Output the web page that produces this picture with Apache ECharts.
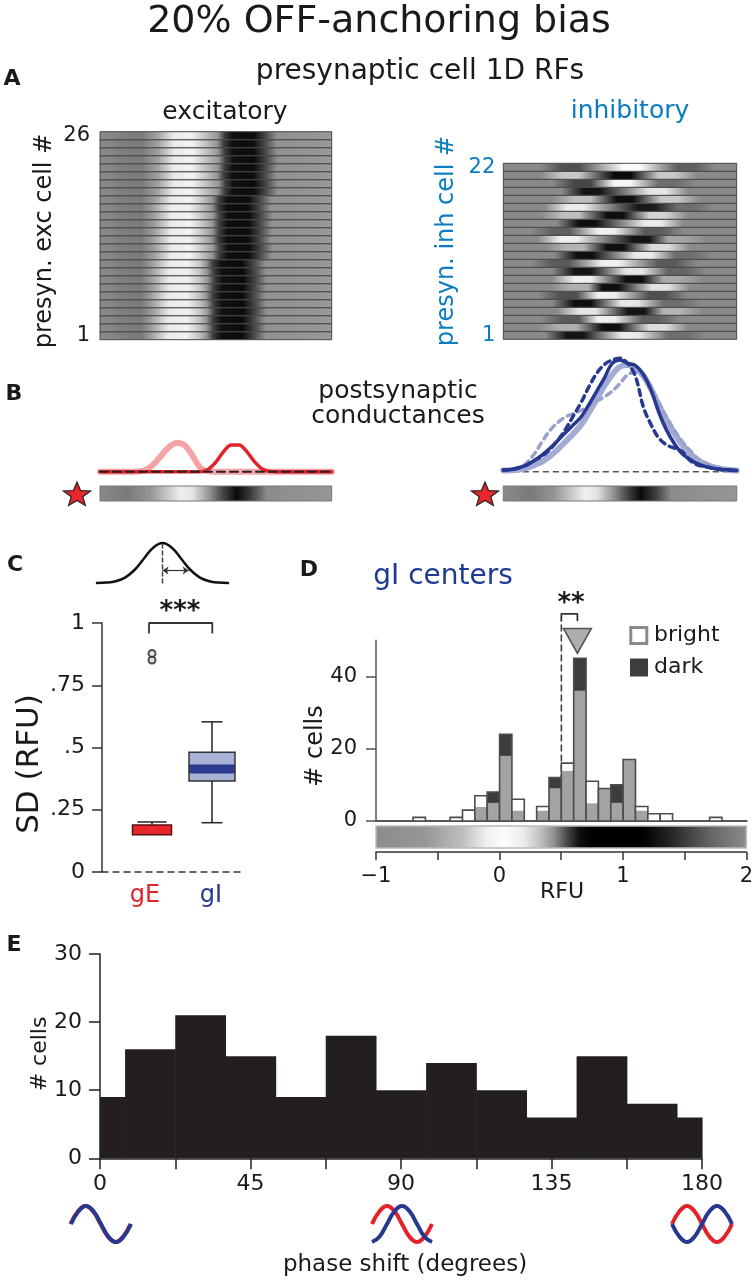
<!DOCTYPE html>
<html><head><meta charset="utf-8">
<script src="https://cdn.jsdelivr.net/npm/echarts@6/dist/echarts.min.js"></script>
<style>html,body{margin:0;padding:0;background:#fff}#c{width:756px;height:1280px}</style>
</head><body><div id="c"></div>
<script>
// ---------------- DATA ----------------
// Panel A: excitatory RF rows (bottom row 1 -> top row 26): centre of bright and dark subfield (RFU)
const excWhite = [0.03,0.04,0.03,0.05,0.04,0.03,0.05,0.04,0.04,0.05,0.07,0.08,0.06,0.07,0.08,0.07,0.06,0.08,0.10,0.11,0.12,0.10,0.11,0.12,0.11,0.10];
const excBlack = [0.72,0.73,0.72,0.74,0.73,0.72,0.73,0.74,0.73,0.72,0.80,0.81,0.79,0.80,0.80,0.81,0.79,0.80,0.87,0.88,0.86,0.87,0.88,0.87,0.86,0.87];
// Panel A: inhibitory RF rows (bottom row 1 -> top row 22): [position (fraction of width), grey level]
const inhRows = [
  [[0.31,20],[0.54,235],[0.74,110]],
  [[0.28,175],[0.46,15],[0.66,220]],
  [[0.29,90],[0.44,240],[0.63,95]],
  [[0.36,230],[0.57,20],[0.72,180]],
  [[0.34,15],[0.54,230],[0.72,110]],
  [[0.28,80],[0.44,240],[0.66,80]],
  [[0.33,175],[0.46,15],[0.67,225]],
  [[0.34,240],[0.56,15],[0.72,170]],
  [[0.34,20],[0.56,230],[0.74,100]],
  [[0.25,90],[0.46,240],[0.70,90]],
  [[0.35,15],[0.60,235],[0.77,110]],
  [[0.31,180],[0.48,15],[0.67,220]],
  [[0.28,240],[0.59,20],[0.74,165]],
  [[0.25,95],[0.44,240],[0.64,90]],
  [[0.36,15],[0.64,235]],
  [[0.29,190],[0.48,15],[0.66,210]],
  [[0.31,235],[0.61,25],[0.78,110]],
  [[0.34,190],[0.52,15],[0.71,200]],
  [[0.38,20],[0.66,230]],
  [[0.34,70],[0.51,245],[0.70,110]],
  [[0.29,200],[0.51,10],[0.70,200]],
  [[0.29,80],[0.55,250],[0.78,95]]
];
// Panel B: conductances vs position (RFU)
const rfuX = [-1,-0.9,-0.8,-0.7,-0.6,-0.5,-0.4,-0.3,-0.2,-0.1,0,0.1,0.2,0.3,0.4,0.5,0.6,0.7,0.8,0.9,1,1.1,1.2,1.3,1.4,1.5,1.6,1.7,1.8,1.9,2];
const gEbright = [0,0,0,0,0,0.003,0.02,0.07,0.15,0.225,0.26,0.235,0.14,0.035,0.003,0,0,0,0,0,0,0,0,0,0,0,0,0,0,0,0];
const gEdark   = [0,0,0,0,0,0,0,0,0,0,0,0,0,0,0.02,0.085,0.18,0.24,0.24,0.18,0.09,0.025,0.003,0,0,0,0,0,0,0,0];
const gIdarkSolid   = [0.015,0.02,0.035,0.06,0.10,0.15,0.21,0.28,0.35,0.42,0.49,0.60,0.72,0.84,0.97,1.0,0.97,0.95,0.87,0.73,0.53,0.37,0.25,0.16,0.11,0.07,0.045,0.03,0.02,0.015,0.01];
const gIdarkDash    = [0.015,0.02,0.035,0.06,0.10,0.14,0.20,0.28,0.38,0.50,0.62,0.76,0.88,0.96,1.0,1.015,0.97,0.85,0.58,0.42,0.30,0.24,0.21,0.18,0.10,0.06,0.045,0.03,0.02,0.015,0.01];
const gIbrightSolid = [0.01,0.012,0.02,0.035,0.06,0.09,0.14,0.20,0.27,0.34,0.42,0.53,0.65,0.77,0.87,0.94,0.955,0.93,0.86,0.74,0.59,0.46,0.34,0.24,0.16,0.10,0.065,0.04,0.025,0.015,0.01];
const gIbrightDash  = [0.01,0.015,0.03,0.08,0.16,0.27,0.37,0.44,0.49,0.52,0.55,0.59,0.63,0.67,0.72,0.79,0.87,0.89,0.85,0.75,0.62,0.49,0.37,0.27,0.19,0.12,0.08,0.05,0.03,0.018,0.01];
// stimulus (mean RF) grey profile: [fraction, grey]
const stimStops = [[0,138],[0.12,122],[0.22,150],[0.35,240],[0.40,228],[0.47,150],[0.53,70],[0.59,10],[0.65,60],[0.72,140],[1,150]];
// Panel C: Gaussian icon (x in SD units) and box plots of SD (RFU)
const gaussX = [-3.5,-3,-2.5,-2,-1.5,-1,-0.5,0,0.5,1,1.5,2,2.5,3,3.5];
const gaussY = [0.002,0.011,0.044,0.135,0.325,0.607,0.882,1,0.882,0.607,0.325,0.135,0.044,0.011,0.002];
const boxNames = ['gE','gI'];
const boxPos = [0.5, 1.1];
const boxStats = [ // [min, q1, median, q3, max]
  [0.15, 0.15, 0.17, 0.189, 0.201],
  [0.198, 0.365, 0.414, 0.481, 0.603]
];
const gEoutliers = [0.851, 0.878];
// Panel D: gI centres histogram (bin start, RFU), counts for bright and dark
const dBinWidth = 0.1;
const dBinStart = [-0.7,-0.4,-0.3,-0.2,-0.1,0.0,0.1,0.3,0.4,0.5,0.6,0.7,0.8,0.9,1.0,1.1,1.2,1.3,1.7];
const dBright   = [1,1,3,7,5,18,6,4,9,16,36,11,9,5,17,4,2,2,1];
const dDark     = [0,0,0,4,8,24,3,3,12,14,45,5,9,10,17,3,0,0,0];
const dMedianBright = 0.5, dMedianDark = 0.63;
const cbarStops = [[-1,140],[-0.6,150],[-0.3,190],[-0.1,240],[0.05,252],[0.2,235],[0.35,185],[0.45,140],[0.55,70],[0.65,15],[0.75,0],[1.15,0],[1.4,40],[1.7,100],[2,140]];
// Panel E: phase shift histogram
const eBinLo  = [0,7.5,22.5,37.5,52.5,67.5,82.5,97.5,112.5,127.5,142.5,157.5,172.5];
const eBinHi  = [7.5,22.5,37.5,52.5,67.5,82.5,97.5,112.5,127.5,142.5,157.5,172.5,180];
const eCounts = [9,16,21,15,9,18,10,14,10,6,15,8,6];
const eTickLabels = [0,45,90,135,180];

// ---------------- HELPERS ----------------
const F = 'DejaVu Sans';
const INK = '#1a1a1a', BLUE_T = '#0b7cc1', NAVY = '#27388f', LNAVY = '#a3abd4', RED = '#e3232a', LRED = '#f5a3a6';
const gray = g => 'rgb(' + g + ',' + g + ',' + g + ')';
const clamp01 = v => Math.max(0, Math.min(1, v));
const grad = stops => new echarts.graphic.LinearGradient(0, 0, 1, 0, stops.map(s => ({offset: clamp01(s[0]), color: gray(s[1])})));
const zip = (xs, ys) => xs.map((x, i) => [x, ys[i]]);
const hid = (o) => Object.assign({type: 'value', show: false, splitLine: {show: false}}, o);

const grids = [
  {left: 100, top: 131.7, width: 231.7, height: 208},     //0 exc heatmap
  {left: 503.3, top: 163.3, width: 233.4, height: 176},   //1 inh heatmap
  {left: 100, top: 360, width: 231.7, height: 111.7},     //2 B red
  {left: 503.3, top: 360, width: 233.4, height: 111.7},   //3 B blue
  {left: 100, top: 486, width: 231.7, height: 15},        //4 stim red
  {left: 503.3, top: 486, width: 233.4, height: 15},      //5 stim blue
  {left: 97, top: 543, width: 131, height: 40},           //6 gaussian icon
  {left: 102, top: 623, width: 140, height: 249},         //7 box
  {left: 376, top: 640.2, width: 370.7, height: 180.8},   //8 D hist
  {left: 376, top: 826, width: 370.7, height: 26},        //9 D colourbar
  {left: 100, top: 954, width: 602, height: 204.3}        //10 E
];

const axLab = (extra) => Object.assign({color: INK, fontFamily: F, fontSize: 21}, extra);
const xAxes = [
  hid({gridIndex: 0, min: -1, max: 2}),
  hid({gridIndex: 1, min: -1, max: 2}),
  hid({gridIndex: 2, min: -1, max: 2}),
  hid({gridIndex: 3, min: -1, max: 2}),
  hid({gridIndex: 4, min: -1, max: 2}),
  hid({gridIndex: 5, min: -1, max: 2}),
  hid({gridIndex: 6, min: -3.5, max: 3.5}),
  {type: 'value', gridIndex: 7, min: 0, max: 1.4, axisLine: {show: true, onZero: false, lineStyle: {color: '#333', width: 1.5, type: [6, 5]}},
   axisTick: {show: false}, axisLabel: {show: false}, splitLine: {show: false}},
  {type: 'value', gridIndex: 8, min: -1, max: 2, axisLine: {show: true, onZero: false, lineStyle: {color: '#555', width: 2}},
   axisTick: {show: false}, axisLabel: {show: false}, splitLine: {show: false}},
  {type: 'value', gridIndex: 9, min: -1, max: 2, interval: 0.5, axisLine: {show: true, onZero: false, lineStyle: {color: '#333', width: 1.5}},
   axisTick: {show: true, length: 8, lineStyle: {color: '#333', width: 1.5}},
   axisLabel: axLab({margin: 14, formatter: v => Number.isInteger(v) ? (v < 0 ? '\u2212' + (-v) : String(v)) : ''}), splitLine: {show: false}},
  {type: 'value', gridIndex: 10, min: 0, max: 180, interval: 22.5, axisLine: {show: true, onZero: false, lineStyle: {color: '#222', width: 1.5}},
   axisTick: {show: true, length: 11, lineStyle: {color: '#222', width: 1.5}},
   axisLabel: axLab({fontSize: 22, margin: 15, formatter: v => eTickLabels.indexOf(v) >= 0 ? String(v) : ''}), splitLine: {show: false}}
];
const yAxes = [
  {type: 'value', gridIndex: 0, min: 0, max: 26, interval: 0.5, axisLine: {show: false}, axisTick: {show: false}, splitLine: {show: false},
   axisLabel: axLab({margin: 10, formatter: v => v === 0.5 ? '1' : (v === 25.5 ? '26' : '')})},
  {type: 'value', gridIndex: 1, min: 0, max: 22, interval: 0.5, axisLine: {show: false}, axisTick: {show: false}, splitLine: {show: false},
   axisLabel: axLab({margin: 8, color: BLUE_T, formatter: v => v === 0.5 ? '1' : (v === 21.5 ? '22' : '')})},
  hid({gridIndex: 2, min: 0, max: 1}),
  hid({gridIndex: 3, min: 0, max: 1}),
  hid({gridIndex: 4, min: 0, max: 1}),
  hid({gridIndex: 5, min: 0, max: 1}),
  hid({gridIndex: 6, min: 0, max: 1}),
  {type: 'value', gridIndex: 7, min: 0, max: 1, interval: 0.25, axisLine: {show: true, onZero: false, lineStyle: {color: '#333', width: 1.5}},
   axisTick: {show: true, length: 10, lineStyle: {color: '#333', width: 1.5}}, splitLine: {show: false},
   axisLabel: axLab({fontSize: 22, margin: 17, formatter: v => v === 0 ? '0' : (v === 1 ? '1' : String(v).replace('0.', '.'))})},
  {type: 'value', gridIndex: 8, min: 0, max: 50, axisLine: {show: true, onZero: false, lineStyle: {color: '#555', width: 1.5}},
   axisTick: {show: true, length: 10, customValues: [0, 20, 40], lineStyle: {color: '#555', width: 1.5}}, splitLine: {show: false},
   axisLabel: axLab({margin: 19, customValues: [0, 20, 40]})},
  hid({gridIndex: 9, min: 0, max: 1}),
  {type: 'value', gridIndex: 10, min: 0, max: 30, interval: 10, axisLine: {show: true, onZero: false, lineStyle: {color: '#222', width: 1.5}},
   axisTick: {show: true, length: 11, lineStyle: {color: '#222', width: 1.5}}, splitLine: {show: false},
   axisLabel: axLab({fontSize: 22, margin: 18})}
];

const series = [];
// Panel A excitatory rows
series.push({type: 'custom', xAxisIndex: 0, yAxisIndex: 0, silent: true,
  data: excWhite.map((w, i) => [i, w, excBlack[i]]),
  renderItem(params, api) {
    const row = api.value(0), wf = (api.value(1) + 1) / 3, bf = (api.value(2) + 1) / 3;
    const p0 = api.coord([-1, row + 1]), p1 = api.coord([2, row]);
    const st = [[0,140],[0.1,128],[0.18,122],[wf-0.12,160],[wf-0.05,235],[wf+0.03,242],[wf+0.08,200],[bf-0.115,150],[bf-0.085,60],[bf-0.05,15],[bf+0.04,12],[bf+0.085,65],[bf+0.14,145],[1,152]];
    return {type: 'rect', shape: {x: p0[0], y: p0[1], width: p1[0] - p0[0], height: p1[1] - p0[1]},
      style: {fill: grad(st), stroke: '#484848', lineWidth: 1}};
  }});
// Panel A inhibitory rows
series.push({type: 'custom', xAxisIndex: 1, yAxisIndex: 1, silent: true,
  data: inhRows.map((r, i) => [i]),
  renderItem(params, api) {
    const row = api.value(0), kp = inhRows[params.dataIndex];
    const p0 = api.coord([-1, row + 1]), p1 = api.coord([2, row]);
    const st = [[0,138]];
    st.push([kp[0][0] - 0.13, 138]);
    kp.forEach(k => { st.push([k[0] - 0.035, k[1]]); st.push([k[0] + 0.035, k[1]]); });
    st.push([kp[kp.length - 1][0] + 0.13, 138]); st.push([1, 138]);
    return {type: 'rect', shape: {x: p0[0], y: p0[1], width: p1[0] - p0[0], height: p1[1] - p0[1]},
      style: {fill: grad(st), stroke: '#484848', lineWidth: 1}};
  }});
// Panel B curves
const lineS = (xi, data, color, width, dash, z) => ({type: 'line', xAxisIndex: xi, yAxisIndex: xi, data: data, showSymbol: false, symbol: 'none',
  smooth: 0.35, clip: false, silent: true, z: z || 2, lineStyle: {color: color, width: width, type: dash || 'solid', cap: 'round'}});
series.push(lineS(2, zip(rfuX, gEbright), LRED, 6, null, 2));
series.push(lineS(2, zip(rfuX, gEdark), RED, 3.5, null, 3));
series.push(Object.assign(lineS(2, [[-1, 0], [2, 0]], '#222', 2, [8, 5], 4), {smooth: false}));
series.push(Object.assign(lineS(3, [[-1, 0], [2, 0]], '#555', 1.6, [5, 5], 1), {smooth: false}));
series.push(lineS(3, zip(rfuX, gIbrightSolid), LNAVY, 6, null, 2));
series.push(lineS(3, zip(rfuX, gIbrightDash), '#9aa2cc', 3.5, [6, 5], 3));
series.push(lineS(3, zip(rfuX, gIdarkSolid), NAVY, 3.5, null, 4));
series.push(lineS(3, zip(rfuX, gIdarkDash), NAVY, 3.5, [6, 5], 5));
// stimulus bars
[4, 5].forEach(gi => series.push({type: 'custom', xAxisIndex: gi, yAxisIndex: gi, silent: true, data: [[-1, 2]],
  renderItem(params, api) {
    const p0 = api.coord([api.value(0), 1]), p1 = api.coord([api.value(1), 0]);
    return {type: 'rect', shape: {x: p0[0], y: p0[1], width: p1[0] - p0[0], height: p1[1] - p0[1]},
      style: {fill: grad(stimStops), stroke: '#777', lineWidth: 1}};
  }}));
// Panel C gaussian icon
series.push(Object.assign(lineS(6, zip(gaussX, gaussY), '#111', 2.5, null, 3), {smooth: 0.4}));
series.push(Object.assign(lineS(6, [[0, 0], [0, 1]], '#444', 1.5, [4, 3], 2), {smooth: false}));
series.push({type: 'line', xAxisIndex: 6, yAxisIndex: 6, data: [], silent: true,
  markLine: {silent: true, symbol: ['arrow', 'arrow'], symbolSize: 6, label: {show: false}, lineStyle: {color: '#333', width: 1.2, type: 'solid'},
    data: [[{coord: [0, 0.31]}, {coord: [1.4, 0.31]}]]}});
// Panel C boxes
const boxW = [0.39, 0.46], capW = [0.29, 0.21];
const boxFill = ['#e8262b', '#a8b2d6'], medColor = ['#e8262b', '#2b3990'], medW = [1, 9], boxStroke = ['#5a1010', '#333'];
series.push({type: 'custom', xAxisIndex: 7, yAxisIndex: 7, silent: true, clip: false,
  data: boxStats.map((s, i) => [boxPos[i]].concat(s)),
  renderItem(params, api) {
    const i = params.dataIndex, x = api.value(0), mn = api.value(1), q1 = api.value(2), md = api.value(3), q3 = api.value(4), mx = api.value(5);
    const hw = boxW[i] / 2, cw = capW[i] / 2, c = api.coord;
    const ln = (a, b, col, w) => ({type: 'line', shape: {x1: a[0], y1: a[1], x2: b[0], y2: b[1]}, style: {stroke: col, lineWidth: w}});
    const tl = c([x - hw, q3]), br = c([x + hw, q1]);
    const ch = [ln(c([x, q3]), c([x, mx]), '#222', 1.5), ln(c([x - cw, mx]), c([x + cw, mx]), '#222', 1.5)];
    if (mn < q1) { ch.push(ln(c([x, q1]), c([x, mn]), '#222', 1.5)); ch.push(ln(c([x - cw, mn]), c([x + cw, mn]), '#222', 1.5)); }
    ch.push({type: 'rect', shape: {x: tl[0], y: tl[1], width: br[0] - tl[0], height: br[1] - tl[1]}, style: {fill: boxFill[i]}});
    ch.push(ln(c([x - hw, md]), c([x + hw, md]), medColor[i], medW[i]));
    ch.push({type: 'rect', shape: {x: tl[0], y: tl[1], width: br[0] - tl[0], height: br[1] - tl[1]}, style: {fill: null, stroke: boxStroke[i], lineWidth: 1.5}});
    return {type: 'group', children: ch};
  }});
series.push({type: 'scatter', xAxisIndex: 7, yAxisIndex: 7, silent: true, symbol: 'circle', symbolSize: 7,
  data: gEoutliers.map(v => [boxPos[0], v]), itemStyle: {color: '#ddd', borderColor: '#222', borderWidth: 2}});
series.push(Object.assign(lineS(7, [[0.47, 0.961], [0.47, 1], [1.103, 1], [1.103, 0.961]], '#333', 1.8, null, 3), {smooth: false}));
// Panel D histogram
series.push({type: 'custom', xAxisIndex: 8, yAxisIndex: 8, silent: true, clip: false,
  data: dBinStart.map((s, i) => [s, dBright[i], dDark[i]]),
  renderItem(params, api) {
    const x0 = api.value(0), b = api.value(1), d = api.value(2), lo = Math.min(b, d), hi = Math.max(b, d);
    const p0 = api.coord([x0, 0]), pl = api.coord([x0 + dBinWidth, lo]), ph = api.coord([x0 + dBinWidth, hi]);
    const w = pl[0] - p0[0];
    const ch = [];
    if (lo > 0) ch.push({type: 'rect', shape: {x: p0[0], y: pl[1], width: w, height: p0[1] - pl[1]}, style: {fill: '#a3a3a3'}});
    if (hi > lo) ch.push({type: 'rect', shape: {x: p0[0], y: ph[1], width: w, height: pl[1] - ph[1]}, style: {fill: d > b ? '#3d3d3d' : '#ffffff'}});
    if (lo > 0 && hi > lo && b > d) ch.push({type: 'line', shape: {x1: p0[0], y1: pl[1], x2: p0[0] + w, y2: pl[1]}, style: {stroke: '#fff', lineWidth: 1}});
    ch.push({type: 'rect', shape: {x: p0[0], y: ph[1], width: w, height: p0[1] - ph[1]}, style: {fill: null, stroke: '#4d4d4d', lineWidth: 1.6}});
    return {type: 'group', children: ch};
  }});
series.push(Object.assign(lineS(8, [[dMedianBright, 0], [dMedianBright, 55.5]], '#444', 1.6, [6, 4], 1), {smooth: false}));
series.push(Object.assign(lineS(8, [[dMedianBright, 55.5], [dMedianBright, 57.3], [dMedianDark, 57.3], [dMedianDark, 55.5]], '#333', 1.8, null, 3), {smooth: false}));
series.push({type: 'scatter', xAxisIndex: 8, yAxisIndex: 8, silent: true, clip: false, symbol: 'triangle', symbolRotate: 180, symbolSize: [28, 25],
  data: [[dMedianDark, 49.8]], itemStyle: {color: '#9a9a9a', borderColor: '#333', borderWidth: 1.5}, z: 5});
// colour bar
series.push({type: 'custom', xAxisIndex: 9, yAxisIndex: 9, silent: true, data: [[-1, 2]],
  renderItem(params, api) {
    const p0 = api.coord([api.value(0), 1]), p1 = api.coord([api.value(1), 0.15]);
    const st = cbarStops.map(s => [(s[0] + 1) / 3, s[1]]);
    return {type: 'rect', shape: {x: p0[0], y: p0[1], width: p1[0] - p0[0], height: p1[1] - p0[1]},
      style: {fill: grad(st), stroke: '#bbb', lineWidth: 1.5}};
  }});
// Panel E histogram
series.push({type: 'custom', xAxisIndex: 10, yAxisIndex: 10, silent: true,
  data: eCounts.map((n, i) => [eBinLo[i], eBinHi[i], n]),
  renderItem(params, api) {
    const p0 = api.coord([api.value(0), api.value(2)]), p1 = api.coord([api.value(1), 0]);
    return {type: 'rect', shape: {x: p0[0], y: p0[1], width: p1[0] - p0[0] + 0.6, height: p1[1] - p0[1]}, style: {fill: '#231f20'}};
  }});

// ---------------- TEXT & ICONS ----------------
const txt = (s, x, y, o) => Object.assign({type: 'text', x: x, y: y, silent: true, z: 10,
  style: Object.assign({text: s, fill: INK, font: '24px "' + F + '"', textAlign: 'center', textVerticalAlign: 'middle', align: 'center', verticalAlign: 'middle'}, (o && o.style) || {})},
  o ? {rotation: o.rotation || 0} : {});
const fnt = (px, bold) => (bold ? 'bold ' : '') + px + 'px "' + F + '"';
const SINE = [0, 0.707, 1, 0.707, 0, -0.707, -1, -0.707, 0];
const NSINE = SINE.map(v => -v);
const NCOS = [-1, -0.707, 0, 0.707, 1, 0.707, 0, -0.707, -1];
const wave = (cx, cy, shape, color) => ({type: 'polyline', silent: true, z: 10,
  shape: {points: shape.map((v, i) => [cx - 30 + i * 60 / (shape.length - 1), cy - 18 * v]), smooth: 0.45},
  style: {stroke: color, lineWidth: 4, fill: null}});
const STAR_R = [13, 5.5, 13, 5.5, 13, 5.5, 13, 5.5, 13, 5.5];
const star = (cx, cy) => ({type: 'polygon', silent: true, z: 10,
  shape: {points: STAR_R.map((r, i) => [cx + 1.1 * r * Math.sin(i * Math.PI / 5), cy - r * Math.cos(i * Math.PI / 5)])},
  style: {fill: '#e8262b', stroke: '#222', lineWidth: 1.2}});
const graphic = [
  txt('20% OFF-anchoring bias', 379, 22, {style: {font: fnt(38)}}),
  txt('A', 12, 79, {style: {font: fnt(22, true)}}),
  txt('presynaptic cell 1D RFs', 420, 72, {style: {font: fnt(28)}}),
  txt('excitatory', 225, 112, {style: {font: fnt(25)}}),
  txt('inhibitory', 630, 111, {style: {font: fnt(25), fill: BLUE_T}}),
  txt('presyn. exc cell #', 45, 241, {rotation: Math.PI / 2, style: {font: fnt(24)}}),
  txt('presyn. inh cell #', 447, 241, {rotation: Math.PI / 2, style: {font: fnt(24), fill: BLUE_T}}),
  txt('B', 14, 394, {style: {font: fnt(22, true)}}),
  txt('postsynaptic', 398, 391, {style: {font: fnt(25)}}),
  txt('conductances', 398, 416, {style: {font: fnt(25)}}),
  star(77, 495), star(485, 495),
  txt('C', 15, 565, {style: {font: fnt(22, true)}}),
  txt('***', 180, 612, {style: {font: fnt(26, true)}}),
  txt('SD (RFU)', 30, 764, {rotation: Math.PI / 2, style: {font: fnt(31)}}),
  txt(boxNames[0], 145, 896, {style: {font: fnt(24), fill: RED}}),
  txt(boxNames[1], 211, 896, {style: {font: fnt(24), fill: NAVY}}),
  txt('D', 309, 570, {style: {font: fnt(22, true)}}),
  txt('gI centers', 443, 577, {style: {font: fnt(28), fill: '#1f3a93'}}),
  txt('**', 571, 604, {style: {font: fnt(26, true)}}),
  {type: 'rect', silent: true, z: 10, shape: {x: 630.8, y: 627.5, width: 16, height: 16}, style: {fill: '#fff', stroke: '#8a8a8a', lineWidth: 3}},
  txt('bright', 654, 635.5, {style: {font: fnt(22), textAlign: 'left', align: 'left'}}),
  {type: 'rect', silent: true, z: 10, shape: {x: 630, y: 658.5, width: 18, height: 18}, style: {fill: '#3d3d3d'}},
  txt('dark', 654, 667, {style: {font: fnt(22), textAlign: 'left', align: 'left'}}),
  txt('# cells', 316, 746, {rotation: Math.PI / 2, style: {font: fnt(24)}}),
  txt('RFU', 562, 892, {style: {font: fnt(22)}}),
  txt('E', 14, 945, {style: {font: fnt(22, true)}}),
  txt('# cells', 40, 1054, {rotation: Math.PI / 2, style: {font: fnt(22)}}),
  txt('phase shift (degrees)', 405, 1265, {style: {font: fnt(23)}}),
  wave(100.5, 1224, SINE, RED), wave(101, 1224, SINE, NAVY),
  wave(402, 1224, SINE, RED), wave(402, 1224, NCOS, NAVY),
  wave(702, 1224, SINE, RED), wave(702, 1224, NSINE, NAVY)
];

const chart = echarts.init(document.getElementById('c'), null, {renderer: 'canvas', width: 756, height: 1280});
chart.setOption({
  animation: false,
  backgroundColor: '#fff',
  textStyle: {fontFamily: F},
  grid: grids,
  xAxis: xAxes,
  yAxis: yAxes,
  series: series,
  graphic: graphic
});
</script></body></html>
